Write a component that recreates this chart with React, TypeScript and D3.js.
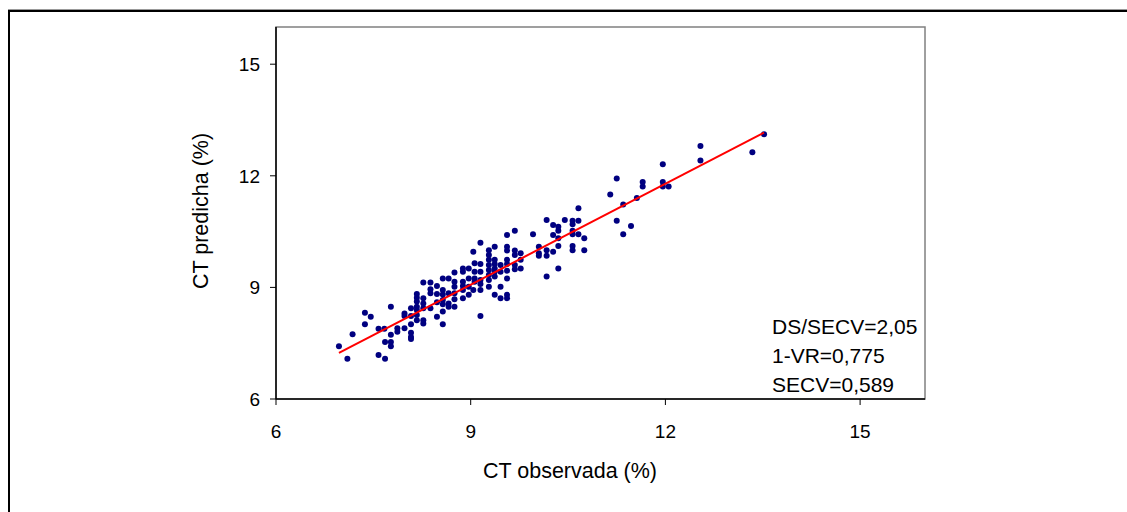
import React from "react";
import * as d3 from "d3";

const observed: number[] = [
  6.97, 7.10, 7.18, 7.37, 7.46, 7.37, 7.58, 7.67, 7.77, 7.58, 7.68, 7.68, 7.77, 7.77, 7.77,
  7.87, 7.87, 7.98, 7.98, 7.98, 8.08, 8.08, 8.08, 8.08, 8.08, 8.08,
  8.17, 8.17, 8.17, 8.17, 8.17, 8.17, 8.17,
  8.27, 8.27, 8.27, 8.27, 8.27, 8.27,
  8.38, 8.38, 8.38, 8.38,
  8.48, 8.48, 8.48, 8.48,
  8.57, 8.57, 8.57, 8.57, 8.57, 8.57, 8.57,
  8.66, 8.66, 8.66, 8.66,
  8.75, 8.75, 8.75, 8.75, 8.75, 8.75,
  8.88, 8.88, 8.88, 8.88, 8.88, 8.88,
  8.97, 8.97, 8.97, 8.97,
  9.04, 9.06, 9.06, 9.06, 9.06, 9.04,
  9.15, 9.15, 9.15, 9.15, 9.15, 9.15, 9.15,
  9.28, 9.28, 9.28, 9.28, 9.28, 9.28, 9.28, 9.28,
  9.37, 9.37, 9.37, 9.37, 9.37, 9.37, 9.37,
  9.46, 9.46, 9.46, 9.46,
  9.56, 9.56, 9.56, 9.56, 9.56, 9.56, 9.56, 9.56, 9.56,
  9.68, 9.68, 9.68, 9.68, 9.68,
  9.77, 9.77, 9.77,
  9.96, 10.05, 10.05, 10.05,
  10.17, 10.17, 10.17, 10.17,
  10.27, 10.27, 10.27, 10.35, 10.35, 10.35, 10.45,
  10.57, 10.66, 10.57, 10.57, 10.57, 10.66, 10.75, 10.35, 10.35, 10.57, 10.57, 10.75, 10.66,
  11.15, 11.56, 11.35, 11.25, 11.35, 11.47, 11.25,
  11.65, 11.65, 11.96, 11.96, 11.96, 12.05,
  12.54, 12.54, 13.34, 13.52,
];
const predicted: number[] = [
  7.42, 7.08, 7.74, 8.32, 8.21, 8.01, 7.89, 7.89, 8.48, 7.18, 7.08, 7.53, 7.53, 7.42, 7.73,
  7.90, 7.81, 7.90, 8.30, 8.23, 8.44, 8.23, 8.01, 7.78, 7.67, 7.61,
  8.82, 8.72, 8.62, 8.48, 8.39, 8.26, 8.12,
  9.13, 8.71, 8.57, 8.44, 8.12, 8.03,
  9.13, 8.95, 8.84, 8.44,
  9.04, 8.82, 8.60, 8.21,
  9.24, 8.93, 8.81, 8.66, 8.55, 8.35, 8.01,
  9.24, 8.84, 8.57, 8.48,
  9.40, 9.15, 9.02, 8.84, 8.68, 8.48,
  9.51, 9.42, 9.15, 9.04, 8.93, 8.71,
  9.51, 9.24, 9.02, 8.80,
  9.96, 9.65, 9.42, 9.24, 9.15, 8.93,
  10.20, 9.63, 9.42, 9.20, 9.09, 8.93, 8.23,
  10.00, 9.87, 9.74, 9.60, 9.47, 9.33, 9.20, 9.02,
  10.09, 9.74, 9.63, 9.51, 9.42, 9.29, 8.80,
  9.60, 9.42, 9.02, 8.71,
  10.41, 10.09, 9.99, 9.74, 9.63, 9.45, 9.24, 8.80, 8.71,
  10.52, 9.99, 9.87, 9.60, 9.49,
  9.92, 9.74, 9.51,
  10.43, 10.09, 9.92, 9.85,
  10.81, 10.00, 9.85, 9.29,
  10.68, 10.41, 9.96, 10.63, 10.52, 9.51, 10.81,
  10.79, 10.79, 10.70, 10.52, 10.43, 10.43, 10.32, 10.32, 10.11, 10.11, 10.00, 10.00, 11.13,
  11.50, 11.40, 11.23, 10.79, 10.43, 10.65, 11.93,
  11.83, 11.71, 12.31, 11.83, 11.71, 11.71,
  12.80, 12.41, 12.63, 13.12,
];

// Fitted line end points (observed, predicted)
const fitLine: [number, number][] = [
  [6.97, 7.24],
  [13.52, 13.16],
];

const xTicks: number[] = [6, 9, 12, 15];
const yTicks: number[] = [6, 9, 12, 15];
const statsLabels: string[] = ["DS/SECV=2,05", "1-VR=0,775", "SECV=0,589"];

const xTitle = "CT observada (%)";
const yTitle = "CT predicha (%)";

export default function App() {
  const W = 1127;
  const H = 512;
  const left = 276;
  const right = 925;
  const top = 27;
  const bottom = 399;

  const x = d3.scaleLinear().domain([6, 16]).range([left, right]);
  const y = d3.scaleLinear().domain([6, 16]).range([bottom, top]);

  const points = observed.map((o, i) => ({ o, p: predicted[i] }));
  const line = d3
    .line<[number, number]>()
    .x((d) => x(d[0]))
    .y((d) => y(d[1]));

  const font = "'Liberation Sans', Arial, sans-serif";

  return (
    <svg
      width={W}
      height={H}
      style={{ position: "absolute", left: 0, top: 0, background: "#fff" }}
      fontFamily={font}
    >
      <rect x={0} y={0} width={W} height={H} fill="#fff" />
      {/* outer frame */}
      <line x1={8} y1={9.5} x2={W + 5} y2={9.5} stroke="#999" strokeWidth={1} />
      <rect x={9} y={11} width={W + 20} height={H + 20} fill="none" stroke="#000" strokeWidth={2} />

      {/* plot area border */}
      <rect
        x={left}
        y={top}
        width={right - left}
        height={bottom - top}
        fill="#fff"
        stroke="#808080"
        strokeWidth={1.5}
      />
      {/* axes */}
      <line x1={left} y1={top} x2={left} y2={bottom} stroke="#000" strokeWidth={1.5} />
      <line x1={left} y1={bottom} x2={right} y2={bottom} stroke="#000" strokeWidth={1.5} />

      {xTicks.map((t) => (
        <g key={"x" + t}>
          <line x1={x(t)} y1={bottom} x2={x(t)} y2={bottom + 6} stroke="#000" strokeWidth={1} />
          <text x={x(t)} y={438} textAnchor="middle" fontSize={19} fill="#000">
            {t}
          </text>
        </g>
      ))}
      {yTicks.map((t) => (
        <g key={"y" + t}>
          <line x1={left - 6} y1={y(t)} x2={left} y2={y(t)} stroke="#000" strokeWidth={1} />
          <text x={260} y={y(t) + 7} textAnchor="end" fontSize={19} fill="#000">
            {t}
          </text>
        </g>
      ))}

      {/* points */}
      {points.map((d, i) => (
        <circle key={i} cx={x(d.o)} cy={y(d.p)} r={3} fill="#000080" />
      ))}

      {/* fit line */}
      <path d={line(fitLine) || ""} fill="none" stroke="#ff0000" strokeWidth={2} />

      {/* stats */}
      {statsLabels.map((s, i) => (
        <text key={s} x={772} y={334 + i * 29} fontSize={21} fill="#000">
          {s}
        </text>
      ))}

      {/* titles */}
      <text x={570} y={478} textAnchor="middle" fontSize={21.5} fill="#000">
        {xTitle}
      </text>
      <text
        transform={`translate(208, 211) rotate(-90)`}
        textAnchor="middle"
        fontSize={21.5}
        fill="#000"
      >
        {yTitle}
      </text>
    </svg>
  );
}
